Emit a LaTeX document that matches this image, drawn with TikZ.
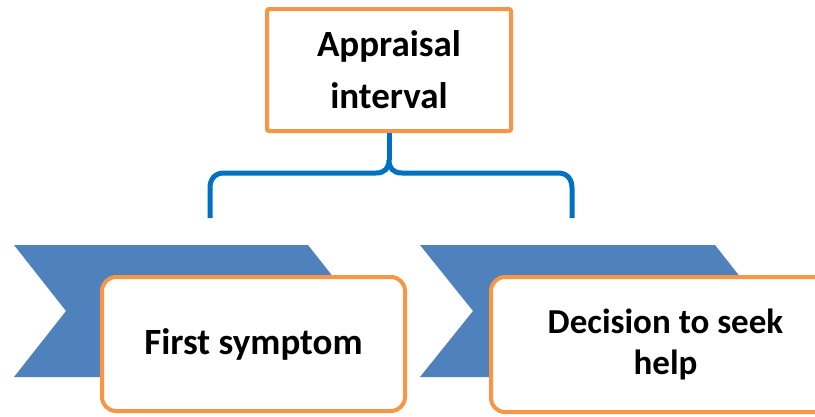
\documentclass[tikz,border=0pt]{standalone}
\usepackage{fontspec}
\setmainfont{Carlito}
\definecolor{chevblue}{HTML}{4F81BD}
\definecolor{boxorange}{HTML}{F79646}
\definecolor{bracblue}{HTML}{0070C0}
\begin{document}
\begin{tikzpicture}[x=1pt,y=-1pt,
  chevron/.style={fill=chevblue,draw=none},
  topbox/.style={draw=boxorange,line width=4pt,fill=white,rounded corners=2pt,inner sep=0pt,align=center,
     font=\fontsize{37}{52}\selectfont\bfseries},
  stagebox/.style={draw=boxorange,line width=4pt,fill=white,rounded corners=14pt,inner sep=0pt,align=center,
     font=\fontsize{37}{41}\selectfont\bfseries},
  brace/.style={draw=bracblue,line width=5pt,line cap=butt}]
\useasboundingbox (0,0) rectangle (815,416);
\clip (0,0) rectangle (815,416);
% chevrons
\fill[chevron] (14,245) -- (308,245) -- (360,311) -- (308,377) -- (14,377) -- (66,311) -- cycle;
\fill[chevron] (420,245) -- (715,245) -- (767,311) -- (715,377) -- (420,377) -- (473,311) -- cycle;
% boxes
\node[topbox,minimum width=244pt,minimum height=122pt] (top) at (389,70) {Appraisal\\interval};
\node[stagebox,minimum width=303pt,minimum height=134pt] (first) at (253.5,344) {First symptom};
\node[stagebox,minimum width=349pt,minimum height=135pt,font=\fontsize{35}{41}\selectfont\bfseries] (decision) at (665.5,344.5) {Decision to seek\\help};
% brace
\coordinate (bl) at (210,218);
\coordinate (br) at (572,218);
\coordinate (cusp) at (389,160);
\draw[brace] (bl) -- (210,188) .. controls (210,180) and (214,173) .. (224,173) -- (376,173)
  .. controls (385,173) and (389,168) .. (cusp)
  .. controls (389,168) and (393,173) .. (402,173) -- (558,173)
  .. controls (568,173) and (572,180) .. (572,188) -- (br);
\draw[brace] (cusp) -- (top.south);
\end{tikzpicture}
\end{document}
